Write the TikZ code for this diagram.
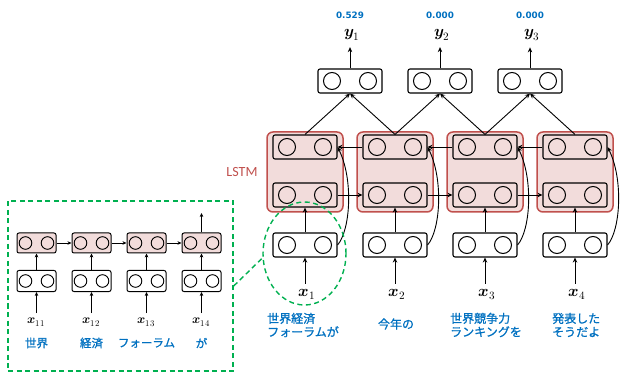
\documentclass[tikz,border=0pt]{standalone}
\usepackage{fontspec}
\usepackage{unicode-math}
\setmathfont{Latin Modern Math}
\usetikzlibrary{arrows.meta,shapes.geometric}
\newfontfamily\jpfont[FakeBold=1]{Noto Sans CJK JP}
\newfontfamily\lstmfont{Carlito}
\newfontfamily\numfont{DejaVu Sans}
\definecolor{pinkfill}{HTML}{F2DCDB}
\definecolor{lstmred}{HTML}{C0504D}
\definecolor{jblue}{HTML}{0070C0}
\definecolor{dgreen}{HTML}{00B050}
\tikzset{
  cell/.style={draw, line width=1.1pt, rounded corners=2pt, minimum width=64pt, minimum height=24pt, inner sep=0pt, fill=white,
    path picture={\draw[line width=1pt] ([xshift=-18pt]path picture bounding box.center) circle (8.5pt)
                                   ([xshift=18pt]path picture bounding box.center) circle (8.5pt);}},
  pcell/.style={cell, fill=pinkfill},
  scell/.style={draw, line width=1pt, rounded corners=2pt, minimum width=39pt, minimum height=21pt, inner sep=0pt, fill=white,
    path picture={\draw[line width=0.9pt] ([xshift=-11pt]path picture bounding box.center) circle (6.3pt)
                                   ([xshift=11pt]path picture bounding box.center) circle (6.3pt);}},
  spcell/.style={scell, fill=pinkfill},
  lstmbox/.style={draw=lstmred, fill=pinkfill, line width=1.5pt, rounded corners=6pt, minimum width=76pt, minimum height=80pt, inner sep=0pt},
  arr/.style={-{Stealth[length=5pt,width=4.5pt]}, line width=0.9pt},
  sarr/.style={-{Stealth[length=4pt,width=3.6pt]}, line width=0.8pt},
  gdash/.style={draw=dgreen, line width=1.4pt, dash pattern=on 5pt off 3.5pt},
  jtext/.style={text=jblue, font=\jpfont\fontsize{12}{13.5}\selectfont, inner sep=0pt, align=left},
  sjtext/.style={text=jblue, font=\jpfont\fontsize{11.5}{13}\selectfont, inner sep=0pt},
  xlab/.style={font=\fontsize{16}{18}\selectfont, inner sep=1pt, anchor=base},
  sxlab/.style={font=\fontsize{12.5}{14}\selectfont, inner sep=1pt, anchor=base},
  numlab/.style={text=jblue, font=\numfont\bfseries\fontsize{8.8}{10}\selectfont, inner sep=0pt},
}
\begin{document}
\begin{tikzpicture}[x=1pt,y=-1pt]
\useasboundingbox (0,0) rectangle (624,374);

% main columns
\foreach \i/\x in {1/305,2/395,3/485,4/575}{
  \node[lstmbox] (L\i) at (\x,172) {};
  \node[pcell] (T\i) at (\x,147) {};
  \node[pcell] (B\i) at (\x,195) {};
  \node[cell] (I\i) at (\x,245) {};
  \node[xlab] (X\i) at (\x+2,296) {$\symbfit{x}_{\i}$};
  \draw[arr] (I\i.north) -- (B\i.south);
  \draw[arr, shorten <=4pt] (X\i.north -| I\i.south) -- (I\i.south);
  \draw[arr] (I\i.east) .. controls +(13,-15) and +(16,32) .. (T\i.east);
}
\foreach \a/\b in {1/2,2/3,3/4}{
  \draw[arr] (B\a.east) -- (B\b.west);
  \draw[arr] (T\b.west) -- (T\a.east);
}

% outputs
\foreach \i/\x/\v in {1/350/0.529,2/440/0.000,3/530/0.000}{
  \node[cell] (O\i) at (\x,81) {};
  \node[xlab] (Y\i) at (\x+2,37) {$\symbfit{y}_{\i}$};
  \node[numlab] (N\i) at (\x,15) {\v};
  \draw[arr, shorten >=5pt] (O\i.north) -- (O\i.north |- Y\i.south);
}
\foreach \i/\a/\b in {1/1/2,2/2/3,3/3/4}{
  \draw[arr] (T\a.north) -- (O\i.south);
  \draw[arr] (T\b.north) -- (O\i.south);
}

\node[text=lstmred, font=\lstmfont\fontsize{14}{16}\selectfont, inner sep=0pt] (LS) at (242,172) {LSTM};

% Japanese labels
\node[jtext, anchor=west] (J1) at (267,325) {世界経済\\フォーラムが};
\node[jtext] (J2) at (396,324) {今年の};
\node[jtext, anchor=west] (J3) at (450,325) {世界競争力\\ランキングを};
\node[jtext, anchor=west] (J4) at (552,325) {発表した\\そうだよ};

% inset
\node[gdash, minimum width=225pt, minimum height=170pt, inner sep=0pt] (Z) at (120.5,286) {};
\foreach \i/\x/\w in {1/36.5/世界,2/91.5/経済,3/146.5/フォーラム,4/201.5/が}{
  \node[spcell, minimum height=20pt] (P\i) at (\x,243) {};
  \node[scell] (Q\i) at (\x,281) {};
  \node[sxlab] (S\i) at (\x,323) {$\symbfit{x}_{1\i}$};
  \node[sjtext] (W\i) at (\x,343) {\w};
  \draw[sarr] (Q\i.north) -- (P\i.south);
  \draw[sarr, shorten <=3pt] (S\i.north -| Q\i.south) -- (Q\i.south);
}
\foreach \a/\b in {1/2,2/3,3/4}{
  \draw[sarr] (P\a.east) -- (P\b.west);
}
\coordinate (PT) at (201.5,213);
\draw[sarr] (P4.north) -- (PT);

% green ellipse and connector
\node[gdash, ellipse, minimum width=83pt, minimum height=103pt, inner sep=0pt] (E) at (304.5,253.5) {};
\draw[gdash] (Z.east) -- (E.186);
\end{tikzpicture}
\end{document}
